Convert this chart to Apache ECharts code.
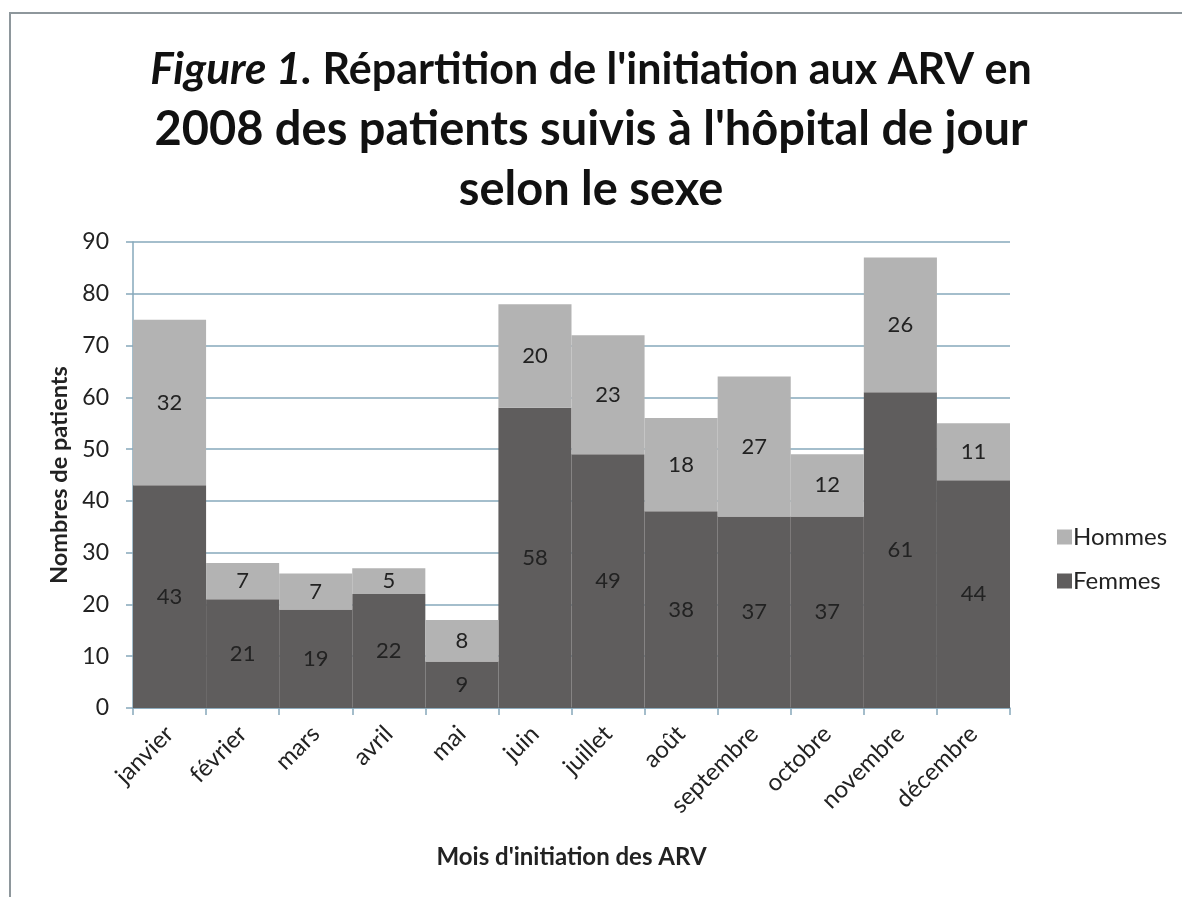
<!DOCTYPE html>
<html>
<head>
<meta charset="utf-8">
<script src="https://cdn.jsdelivr.net/npm/echarts@6/dist/echarts.min.js"></script>
<style>
  html, body { margin: 0; padding: 0; background: #fff; }
  #chart { width: 1182px; height: 897px; }
</style>
</head>
<body>
<div id="chart"></div>
<script>
// mois et effectifs
var mois = ['janvier', 'février', 'mars', 'avril', 'mai', 'juin', 'juillet', 'août', 'septembre', 'octobre', 'novembre', 'décembre'];
var femmes = [43, 21, 19, 22, 9, 58, 49, 38, 37, 37, 61, 44];
var hommes = [32, 7, 7, 5, 8, 20, 23, 18, 27, 12, 26, 11];
var yTicks = [0, 10, 20, 30, 40, 50, 60, 70, 80, 90];

var font = 'Lato, "Open Sans", sans-serif';
var lineColor = '#86a8bb';

var chart = echarts.init(document.getElementById('chart'));

var labelStyle = {
    show: true,
    position: 'inside',
    color: '#222',
    fontFamily: font,
    fontSize: 22
};

chart.setOption({
    backgroundColor: '#fff',
    animation: false,
    graphic: [{
        type: 'rect',
        shape: { x: 10, y: 13, width: 1200, height: 900 },
        style: { fill: 'none', stroke: '#8e979c', lineWidth: 2 },
        silent: true
    }],
    title: {
        text: '{i|Figure 1.}{a| Répartition de l\'initiation aux ARV en}\n2008 des patients suivis à l\'hôpital de jour\nselon le sexe',
        left: 'center',
        top: 35,
        textStyle: {
            fontFamily: font,
            fontSize: 47,
            fontWeight: 'bold',
            color: '#111',
            lineHeight: 60,
            rich: {
                i: { fontStyle: 'italic', fontWeight: 'bold', fontSize: 44, fontFamily: font, color: '#111', lineHeight: 60 },
                a: { fontWeight: 'bold', fontSize: 43, fontFamily: font, color: '#111', lineHeight: 60 }
            }
        }
    },
    legend: {
        orient: 'vertical',
        left: 1052,
        top: 520,
        itemWidth: 15,
        itemHeight: 15,
        itemGap: 20,
        icon: 'rect',
        data: ['Hommes', 'Femmes'],
        textStyle: { fontFamily: font, fontSize: 24, color: '#222', padding: [0, 0, 0, -4] }
    },
    grid: {
        left: 133,
        right: 172,
        top: 242,
        bottom: 189,
        containLabel: false
    },
    xAxis: {
        type: 'category',
        data: mois,
        name: 'Mois d\'initiation des ARV',
        nameLocation: 'middle',
        nameGap: 137,
        nameTextStyle: { fontFamily: font, fontSize: 24, fontWeight: 'bold', color: '#222' },
        axisLine: { lineStyle: { color: lineColor, width: 1.5 } },
        axisTick: { show: true, length: 7, lineStyle: { color: lineColor, width: 1.5 } },
        axisLabel: { rotate: 45, margin: 22, fontFamily: font, fontSize: 24, color: '#222', interval: 0 }
    },
    yAxis: {
        type: 'value',
        min: yTicks[0],
        max: yTicks[yTicks.length - 1],
        interval: 10,
        name: 'Nombres de patients',
        nameLocation: 'middle',
        nameGap: 59,
        nameTextStyle: { fontFamily: font, fontSize: 23.5, fontWeight: 'bold', color: '#222' },
        axisLine: { show: true, lineStyle: { color: lineColor, width: 1.5 } },
        axisTick: { show: true, length: 7, lineStyle: { color: lineColor, width: 1.5 } },
        axisLabel: { margin: 24, fontFamily: font, fontSize: 23, color: '#222' },
        splitLine: { show: true, lineStyle: { color: lineColor, width: 1.5 } }
    },
    series: [{
        name: 'Femmes',
        type: 'bar',
        stack: 'total',
        data: femmes,
        barCategoryGap: 0,
        itemStyle: { color: '#5f5d5d' },
        label: labelStyle
    }, {
        name: 'Hommes',
        type: 'bar',
        stack: 'total',
        data: hommes,
        barCategoryGap: 0,
        itemStyle: { color: '#b3b3b3' },
        label: labelStyle
    }]
});
</script>
</body>
</html>
